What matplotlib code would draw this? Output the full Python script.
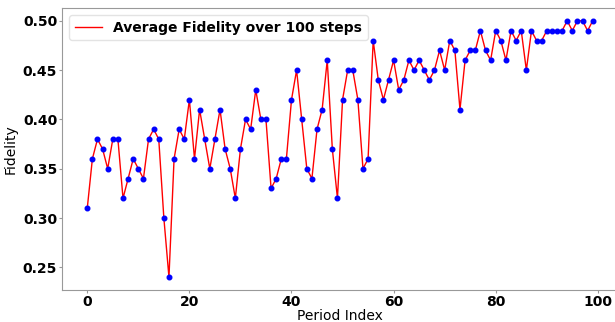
import numpy as np
import matplotlib
matplotlib.use("Agg")
import matplotlib.pyplot as plt

# average fidelity per period
periods = np.arange(100)
fidelity = [
    0.31, 0.36, 0.38, 0.37, 0.35, 0.38, 0.38, 0.32, 0.34, 0.36,
    0.35, 0.34, 0.38, 0.39, 0.38, 0.30, 0.24, 0.36, 0.39, 0.38,
    0.42, 0.36, 0.41, 0.38, 0.35, 0.38, 0.41, 0.37, 0.35, 0.32,
    0.37, 0.40, 0.39, 0.43, 0.40, 0.40, 0.33, 0.34, 0.36, 0.36,
    0.42, 0.45, 0.40, 0.35, 0.34, 0.39, 0.41, 0.46, 0.37, 0.32,
    0.42, 0.45, 0.45, 0.42, 0.35, 0.36, 0.48, 0.44, 0.42, 0.44,
    0.46, 0.43, 0.44, 0.46, 0.45, 0.46, 0.45, 0.44, 0.45, 0.47,
    0.45, 0.48, 0.47, 0.41, 0.46, 0.47, 0.47, 0.49, 0.47, 0.46,
    0.49, 0.48, 0.46, 0.49, 0.48, 0.49, 0.45, 0.49, 0.48, 0.48,
    0.49, 0.49, 0.49, 0.49, 0.50, 0.49, 0.50, 0.50, 0.49, 0.50,
]
xticks = [0, 20, 40, 60, 80, 100]
yticks = [0.25, 0.30, 0.35, 0.40, 0.45, 0.50]

fig = plt.figure(figsize=(6.15, 3.22), dpi=100)
ax = fig.add_axes([62 / 615, 32 / 322, 556 / 615, 282 / 322])

ax.plot(periods, fidelity, color="red", lw=1.0, label="Average Fidelity over 100 steps")
ax.plot(periods, fidelity, "o", color="blue", ms=3.3, zorder=3)

ax.set_xticks(xticks)
ax.set_yticks(yticks)
ax.set_yticklabels([f"{v:.2f}" for v in yticks])
for lab in ax.get_xticklabels() + ax.get_yticklabels():
    lab.set_fontweight("bold")
    lab.set_fontsize(10)

for s in ax.spines.values():
    s.set_color("#999999")
ax.tick_params(color="#999999", length=2, pad=1.5)

ax.set_xlabel("Period Index", fontsize=10, labelpad=0)
ax.set_ylabel("Fidelity", fontsize=10, labelpad=4)

leg = ax.legend(loc="upper left", prop={"weight": "bold", "size": 10})
leg.get_frame().set_edgecolor("#dddddd")

fig.savefig("out.png", dpi=100)
